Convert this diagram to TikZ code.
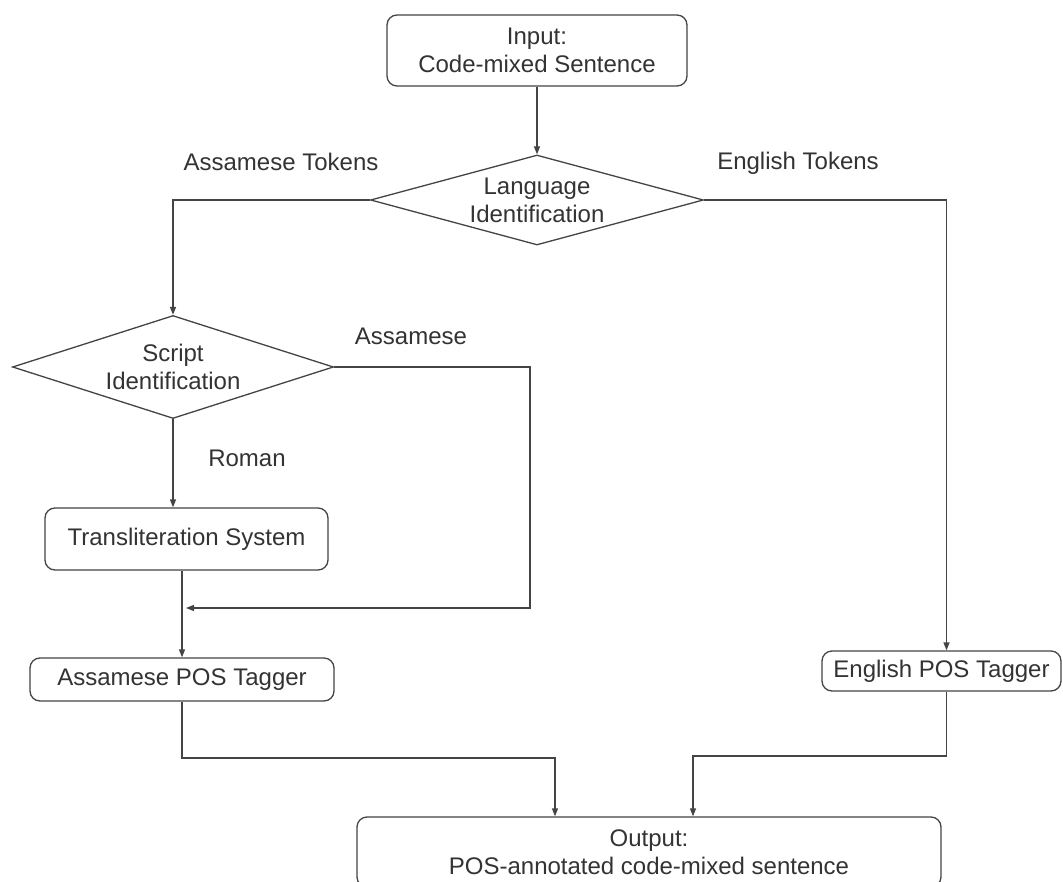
\documentclass[tikz,border=0pt]{standalone}
\usepackage{fontspec}
\setmainfont{Liberation Sans}
\usetikzlibrary{shapes.geometric,arrows.meta}
\definecolor{ink}{HTML}{333333}
\definecolor{edge}{HTML}{444444}
\tikzset{
  every node/.style={font=\fontsize{24}{28}\selectfont, text=ink},
  box/.style={draw=edge, line width=1.3pt, rounded corners=10pt, inner sep=0pt, align=center},
  dia/.style={draw=edge, line width=1.3pt, diamond, inner sep=0pt, align=center},
  lab/.style={inner sep=0pt},
  arr/.style={draw=edge, line width=1.3pt, -{Triangle[length=8pt,width=6pt]}},
  ln/.style={draw=edge, line width=1.3pt}
}
\begin{document}
\begin{tikzpicture}[x=1pt,y=-1pt]
\clip (0,0) rectangle (1063,882);
\fill[white] (0,0) rectangle (1063,882);

\node[box, minimum width=300pt, minimum height=71pt] (input) at (537,50.5) {Input:\\Code-mixed Sentence};
\node[dia, aspect=3.7, minimum width=333pt, minimum height=90pt] (lang) at (537,200) {Language\\Identification};
\node[dia, aspect=3.1, minimum width=321pt, minimum height=103pt] (script) at (173,367) {Script\\Identification};
\node[box, minimum width=283pt, minimum height=62pt] (trans) at (186.5,539) {Transliteration System};
\node[box, minimum width=304pt, minimum height=43pt] (asmpos) at (182,679.5) {Assamese POS Tagger};
\node[box, minimum width=239pt, minimum height=40pt] (engpos) at (941.5,671) {English POS Tagger};
\node[box, minimum width=584pt, minimum height=70pt] (output) at (649,852) {Output:\\POS-annotated code-mixed sentence};

\node[lab] (ltok) at (281,162) {Assamese Tokens};
\node[lab] (etok) at (798,163) {English Tokens};
\node[lab] (lasm) at (411,336) {Assamese};
\node[lab] (lrom) at (247,458) {Roman};

\draw[arr] (input.south) -- (lang.north);
\draw[arr] (lang.west) -| (script.north);
\draw[arr] (lang.east) -| ([xshift=5pt]engpos.north);
\draw[arr] (script.south) -- (script.south |- trans.north);
\draw[arr] (asmpos.north |- trans.south) -- (asmpos.north);
\coordinate (join) at (asmpos.north |- 0,608);
\coordinate (rc) at (530,367);
\draw[arr, shorten >=4pt] (script.east) -- (rc) |- (join);
\coordinate (m1) at (555,758);
\coordinate (m2) at (693,756);
\draw[arr] (asmpos.south) |- (m1) -- (m1 |- output.north);
\draw[arr] ([xshift=5pt]engpos.south) |- (m2) -- (m2 |- output.north);
\end{tikzpicture}
\end{document}
